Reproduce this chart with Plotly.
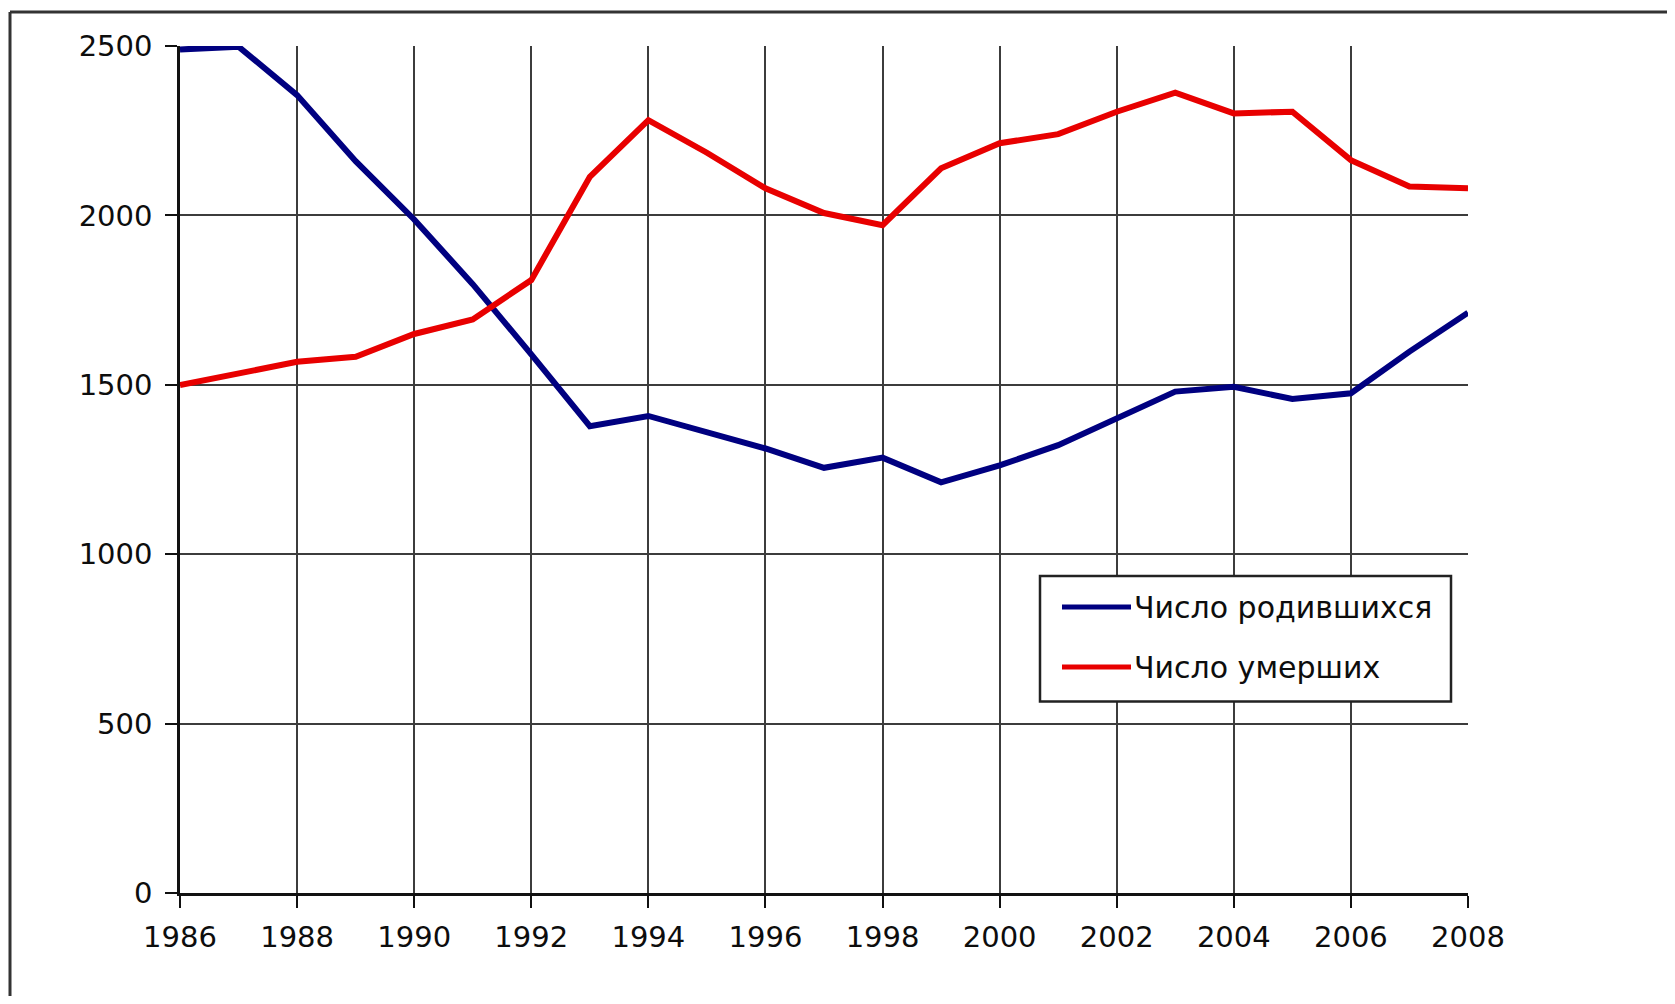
import plotly.graph_objects as go

# ---- data ----
years = list(range(1986, 2009))
births = [2490, 2498, 2355, 2160, 1988, 1797, 1590, 1378, 1408, 1362, 1312, 1255,
          1285, 1212, 1262, 1322, 1400, 1480, 1494, 1458, 1475, 1598, 1713]
deaths = [1499, 1534, 1568, 1583, 1650, 1693, 1809, 2114, 2281, 2185, 2080, 2007,
          1971, 2139, 2213, 2240, 2306, 2362, 2301, 2306, 2163, 2085, 2080]
series_names = ["Число родившихся", "Число умерших"]
series_colors = ["#000080", "#e80000"]
x_ticks = list(range(1986, 2009, 2))
y_ticks = [0, 500, 1000, 1500, 2000, 2500]

OFF = 8  # page body margin
W, H = 1675 - 2 * OFF, 1004 - 2 * OFF
ML, MR, MT, MB = 172, 199, 38, 103
PW, PH = W - ML - MR, H - MT - MB


def px(xp):
    # page x (pixels) -> paper coordinate
    return (xp - OFF - ML) / PW


def py(yp):
    # page y (pixels) -> paper coordinate
    return (H - MB - (yp - OFF)) / PH


FONT = "DejaVu Sans"
TXT = "#0d0d0d"

fig = go.Figure()
for name, vals, col in zip(series_names, [births, deaths], series_colors):
    fig.add_trace(go.Scatter(x=years, y=vals, mode="lines", name=name,
                             line=dict(color=col, width=6), showlegend=False))

fig.update_xaxes(range=[1986, 2008], tickvals=x_ticks, ticktext=[str(v) for v in x_ticks],
                 showgrid=True, gridcolor="#3c3c3c", gridwidth=2.2,
                 showline=True, linecolor="#111111", linewidth=2.5, mirror=False,
                 ticks="outside", ticklen=12, tickwidth=2, tickcolor="#111111",
                 tickfont=dict(family=FONT, size=29, color=TXT),
                 ticklabelstandoff=4, zeroline=False)
fig.update_yaxes(range=[0, 2500], tickvals=y_ticks, ticktext=[str(v) for v in y_ticks],
                 showgrid=True, gridcolor="#3c3c3c", gridwidth=2.2,
                 showline=True, linecolor="#111111", linewidth=2.5,
                 ticks="outside", ticklen=12, tickwidth=2, tickcolor="#111111",
                 tickfont=dict(family=FONT, size=29, color=TXT),
                 ticklabelstandoff=7, zeroline=False)

shapes = []
# outer frame (top and left edges visible in the reference)
shapes.append(dict(type="line", xref="paper", yref="paper",
                   x0=px(10), x1=px(1680), y0=py(12), y1=py(12),
                   line=dict(color="#333333", width=3)))
shapes.append(dict(type="line", xref="paper", yref="paper",
                   x0=px(10), x1=px(10), y0=py(12), y1=py(1010),
                   line=dict(color="#333333", width=3)))
# legend box
shapes.append(dict(type="rect", xref="paper", yref="paper",
                   x0=px(1040), x1=px(1451), y0=py(701.5), y1=py(576),
                   fillcolor="white", line=dict(color="#222222", width=2.5),
                   layer="above"))
annotations = []
row_y = [607, 667]
for name, col, ry in zip(series_names, series_colors, row_y):
    shapes.append(dict(type="line", xref="paper", yref="paper",
                       x0=px(1062), x1=px(1131), y0=py(ry), y1=py(ry),
                       line=dict(color=col, width=5), layer="above"))
    annotations.append(dict(xref="paper", yref="paper", x=px(1132), y=py(ry),
                            xanchor="left", yanchor="middle", text=name,
                            showarrow=False,
                            font=dict(family=FONT, size=30, color=TXT)))

fig.update_layout(width=W, height=H,
                  margin=dict(l=ML, r=MR, t=MT, b=MB, autoexpand=False),
                  paper_bgcolor="white", plot_bgcolor="white",
                  shapes=shapes, annotations=annotations, showlegend=False)

fig.write_html("out.html")
